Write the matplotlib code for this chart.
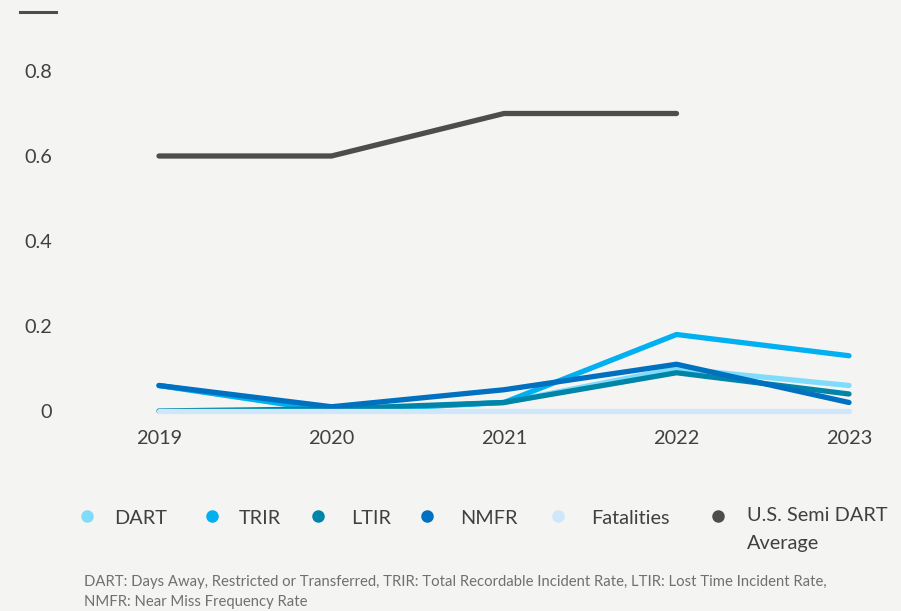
import numpy as np
import matplotlib.pyplot as plt
from matplotlib.lines import Line2D

# ---------------------------------------------------------------------------
# DATA
# ---------------------------------------------------------------------------
years = ["2019", "2020", "2021", "2022", "2023"]

dart       = [0.06, 0.00, 0.02, 0.10, 0.06]
trir       = [0.06, 0.00, 0.02, 0.18, 0.13]
ltir       = [0.00, 0.005, 0.02, 0.09, 0.04]
nmfr       = [0.06, 0.01, 0.05, 0.11, 0.02]
fatalities = [0.00, 0.00, 0.00, 0.00, 0.00]
us_semi    = [0.60, 0.60, 0.70, 0.70, np.nan]

series_names = ["DART", "TRIR", "LTIR", "NMFR", "Fatalities",
                "U.S. Semi DART\nAverage"]
y_ticks = [0, 0.2, 0.4, 0.6, 0.8]
y_tick_labels = ["0", "0.2", "0.4", "0.6", "0.8"]

footnote = ("DART: Days Away, Restricted or Transferred, TRIR: Total Recordable "
            "Incident Rate, LTIR: Lost Time Incident Rate,\n"
            "NMFR: Near Miss Frequency Rate")

colors = ["#7fdcfb", "#00b0f0", "#0085a8", "#0070c0", "#d0e6fb", "#4d4d4d"]
bg = "#f4f4f2"
text_col = "#404040"

# ---------------------------------------------------------------------------
# PLOT
# ---------------------------------------------------------------------------
plt.rcParams["font.family"] = ["Lato", "DejaVu Sans"]

W, H = 901, 611
fig = plt.figure(figsize=(W / 100, H / 100), dpi=100, facecolor=bg)
ax = fig.add_axes([159 / W, 1 - 411 / H, (849 - 159) / W, (411 - 71) / H])
ax.set_facecolor(bg)

x = np.arange(len(years))
all_series = [dart, trir, ltir, nmfr, fatalities, us_semi]
for i, vals in enumerate(all_series):
    ax.plot(x, vals, color=colors[i], lw=3.8,
            solid_capstyle="round", solid_joinstyle="round", clip_on=False)

ax.set_xlim(0, len(years) - 1)
ax.set_ylim(0, 0.8)
ax.set_xticks(x)
ax.set_xticklabels(years, fontsize=14.3, color=text_col)
ax.set_yticks(y_ticks)
ax.set_yticklabels(y_tick_labels, fontsize=14.3, color=text_col)
ax.tick_params(axis="x", length=0, pad=14)
ax.tick_params(axis="y", length=0, pad=77)
for s in ax.spines.values():
    s.set_visible(False)

# short dash at top left
fig.add_artist(Line2D([20 / W, 56 / W], [1 - 12 / H, 1 - 12 / H],
                      color="#4d4d4d", lw=2.2))

# legend (manual placement)
marker_x = [87, 212, 318, 427, 558, 718]
label_x = [114, 239, 351, 460, 591, 747]
for i, name in enumerate(series_names):
    fig.add_artist(Line2D([marker_x[i] / W], [1 - 516 / H], marker="o",
                          markersize=8, color=colors[i], lw=0))
    if "\n" in name:
        fig.text(label_x[i] / W, 1 - 507 / H, name, fontsize=14.3,
                 color=text_col, va="top", ha="left", linespacing=1.8)
    else:
        fig.text(label_x[i] / W, 1 - 518 / H, name, fontsize=14.3,
                 color=text_col, va="center", ha="left")

fig.text(84 / W, 1 - 575 / H, footnote, fontsize=10.7, color="#707070",
         va="top", ha="left", linespacing=1.55,
         family=["Liberation Sans Narrow", "Lato", "DejaVu Sans"])

plt.savefig("out.png", dpi=100, facecolor=bg)
